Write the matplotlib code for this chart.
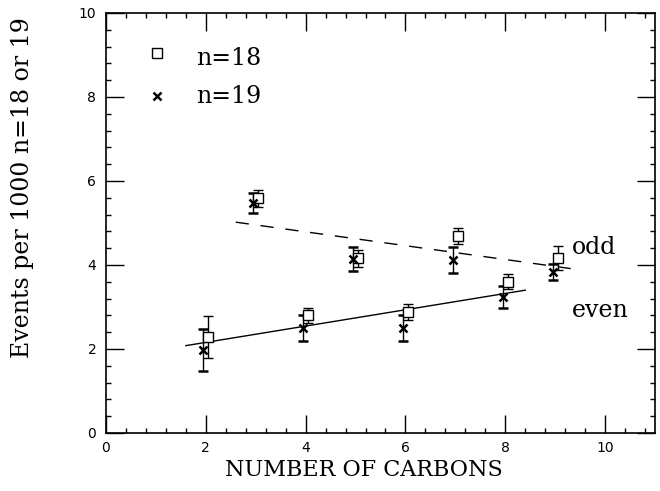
import matplotlib
matplotlib.use("Agg")
import matplotlib.pyplot as plt
import numpy as np
from matplotlib.ticker import MultipleLocator

# ---- data ----
carbons = [2, 3, 4, 5, 6, 7, 8, 9]
n18_vals = [2.29, 5.59, 2.80, 4.16, 2.87, 4.69, 3.60, 4.16]
n18_errs = [0.50, 0.20, 0.17, 0.20, 0.19, 0.18, 0.18, 0.29]
n19_vals = [1.98, 5.48, 2.50, 4.14, 2.50, 4.12, 3.23, 3.84]
n19_errs = [0.50, 0.24, 0.30, 0.29, 0.31, 0.30, 0.26, 0.19]
odd_x = [2.6, 9.4]
odd_y = [5.02, 3.90]
even_x = [1.6, 8.4]
even_y = [2.08, 3.40]
legend_labels = ["n=18", "n=19"]
xticks = [0, 2, 4, 6, 8, 10]
yticks = [0, 2, 4, 6, 8, 10]

# ---- style ----
dx18 = 0.05
dx19 = -0.05
serif = "DejaVu Serif"

fig = plt.figure(figsize=(6.6, 4.91), dpi=100)
ax = fig.add_axes([106/660, 1-433/491, (655-106)/660, (433-13)/491])

x18 = np.array(carbons) + dx18
x19 = np.array(carbons) + dx19

ax.errorbar(x18, n18_vals, yerr=n18_errs, fmt='s', mfc='white', mec='black',
            ms=7, mew=1.0, ecolor='black', elinewidth=1.0, capsize=3.8,
            capthick=1.0, zorder=3)
ax.errorbar(x19, n19_vals, yerr=n19_errs, fmt='x', color='black',
            ms=5.5, mew=1.8, ecolor='black', elinewidth=1.0, capsize=3.8,
            capthick=1.0, zorder=3)

ax.plot(odd_x, odd_y, color='black', lw=1.0, dashes=(9.5, 8.5))
ax.plot(even_x, even_y, color='black', lw=1.0)

# legend (manual, like the original)
ax.plot([1.02], [9.05], 's', mfc='white', mec='black', ms=6.5, mew=1.0)
ax.plot([1.02], [8.02], 'x', color='black', ms=5.5, mew=1.8)
ax.text(1.8, 8.76, legend_labels[0], family=serif, fontsize=17, va='baseline')
ax.text(1.8, 7.86, legend_labels[1], family=serif, fontsize=17, va='baseline')

ax.text(9.33, 4.26, "odd", family=serif, fontsize=17, va='baseline')
ax.text(9.33, 2.77, "even", family=serif, fontsize=17, va='baseline')

ax.set_xlim(0, 11)
ax.set_ylim(0, 10)
ax.set_xticks(xticks)
ax.set_yticks(yticks)
ax.xaxis.set_minor_locator(MultipleLocator(0.4))
ax.yaxis.set_minor_locator(MultipleLocator(0.4))
ax.tick_params(which='both', direction='in', top=True, right=True, width=1.0)
ax.tick_params(which='major', length=13)
ax.tick_params(which='minor', length=3.8)
ax.tick_params(axis='x', which='major', pad=6, labelsize=10)
ax.tick_params(axis='y', which='major', pad=7, labelsize=10)
for s in ax.spines.values():
    s.set_linewidth(1.2)

fig.text(364/660, 1-470/491, "NUMBER OF CARBONS", family=serif, fontsize=16,
         ha='center', va='center')
fig.text(23/660, 1-188/491, "Events per 1000 n=18 or 19", family=serif,
         fontsize=17, rotation=90, ha='center', va='center')

fig.savefig("out.png", dpi=100)
